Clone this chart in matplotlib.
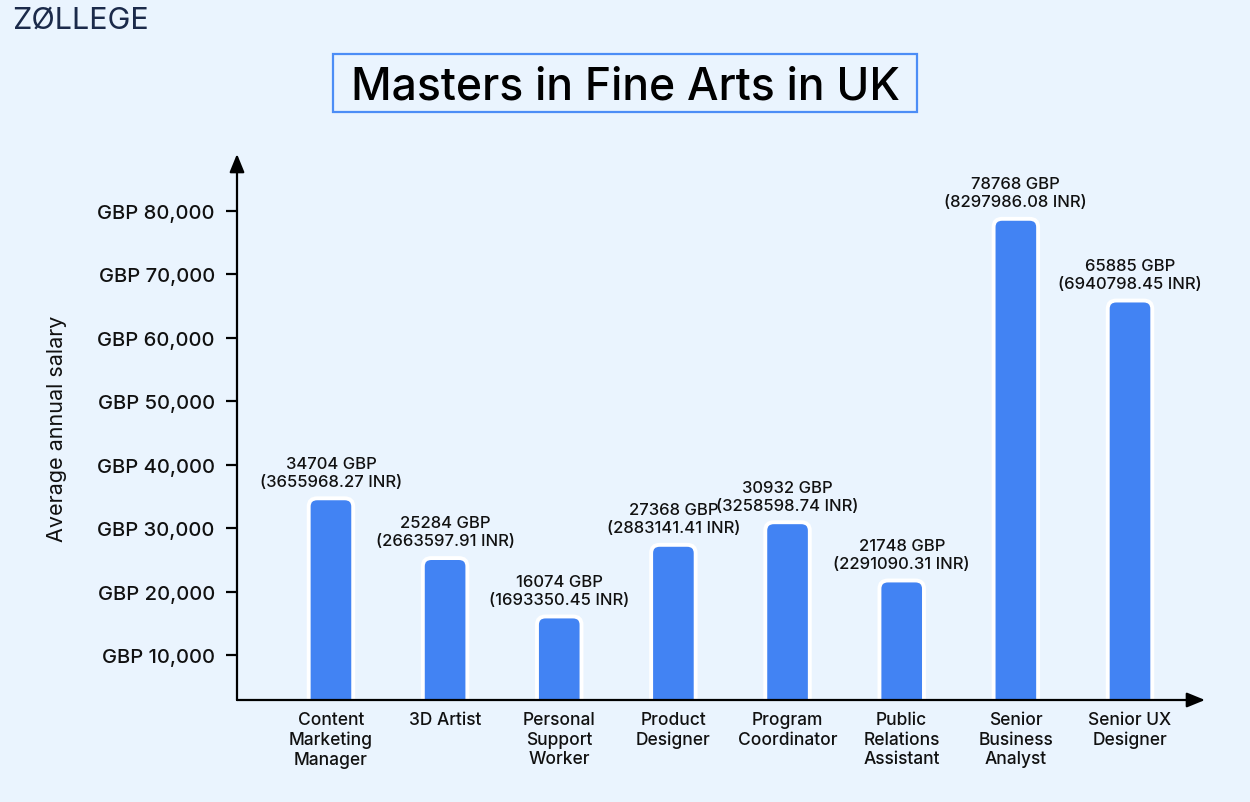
import matplotlib.pyplot as plt
from matplotlib.patches import FancyBboxPatch, Rectangle
import numpy as np

plt.rcParams['font.family'] = ['Inter', 'DejaVu Sans']

jobs = ['Content\nMarketing\nManager', '3D Artist', 'Personal\nSupport\nWorker',
        'Product\nDesigner', 'Program\nCoordinator', 'Public\nRelations\nAssistant',
        'Senior\nBusiness\nAnalyst', 'Senior UX\nDesigner']
gbp = [34704, 25284, 16074, 27368, 30932, 21748, 78768, 65885]
inr = ['3655968.27', '2663597.91', '1693350.45', '2883141.41',
       '3258598.74', '2291090.31', '8297986.08', '6940798.45']
yticks = [10000, 20000, 30000, 40000, 50000, 60000, 70000, 80000]

bg = '#EAF4FE'
bar_color = '#4283F3'
W, H = 1250, 803

fig = plt.figure(figsize=(12.5, 8.03), dpi=100, facecolor=bg)
# axes box: x 237..1205 px, y 155..701 px
ax = fig.add_axes([237 / W, 1 - 701 / H, (1205 - 237) / W, (701 - 155) / H])
ax.set_facecolor(bg)

x = np.arange(len(jobs))
width = 0.39
ax.set_xlim(-0.823, len(jobs) - 1 + 0.657)
# tick 10,000 at 656 px and 80,000 at 212 px -> 63.43 px per 10k
px_per = 63.43 / 10000
ax.set_ylim(10000 - (701 - 656) / px_per, 80000 + (212 - 155) / px_per)

bars = ax.bar(x, gbp, width=width, color=bar_color)
aspect = 1300 / 0.075
for r in bars:
    bx, by = r.get_x(), r.get_y()
    bw, bh = r.get_width(), r.get_height()
    r.remove()
    p = FancyBboxPatch((bx, by), bw, bh,
                       boxstyle='round,pad=0,rounding_size=0.075',
                       mutation_aspect=aspect, facecolor=bar_color,
                       edgecolor='white', linewidth=2.8, zorder=2)
    ax.add_patch(p)

for i, v in enumerate(gbp):
    ax.annotate(f'{v} GBP\n({inr[i]} INR)', (x[i], v), xytext=(0, 7),
                textcoords='offset points', ha='center', va='bottom',
                fontsize=12, color='#111111', linespacing=1.25,
                fontweight='medium')

for s in ax.spines.values():
    s.set_visible(False)

# axis arrows
ax.annotate('', xy=(1.0, 0), xytext=(0, 0), xycoords='axes fraction',
            arrowprops=dict(arrowstyle='-|>,head_length=1.1,head_width=0.45',
                            color='black', lw=1.6, shrinkA=0, shrinkB=0))
ax.annotate('', xy=(0, 1.0), xytext=(0, 0), xycoords='axes fraction',
            arrowprops=dict(arrowstyle='-|>,head_length=1.1,head_width=0.45',
                            color='black', lw=1.6, shrinkA=0, shrinkB=0))

ax.set_yticks(yticks)
ax.set_yticklabels([f'GBP {t:,}' for t in yticks], fontsize=14.5,
                   color='#111111', fontweight='medium')
ax.tick_params(axis='y', length=8, width=1.6, pad=8, color='black')
ax.set_xticks(x)
ax.set_xticklabels(jobs, fontsize=12.5, color='#111111', linespacing=1.2,
                   fontweight='medium')
ax.tick_params(axis='x', length=0, pad=8)

fig.text(57 / W, 1 - 429 / H, 'Average annual salary', rotation=90,
         ha='center', va='center', fontsize=15.5, color='#111111')

# title with its blue frame
fig.patches.append(Rectangle((333 / W, 1 - 113 / H), (917 - 333) / W, 58 / H,
                             transform=fig.transFigure, facecolor='none',
                             edgecolor='#4C8DF6', linewidth=1.6))
fig.text(625 / W, 1 - 87 / H, 'Masters in Fine Arts in UK', ha='center',
         va='center', fontsize=32, color='black', fontweight='medium')

fig.text(12 / W, 1 - 21 / H, 'ZØLLEGE', ha='left', va='center',
         fontsize=22, color='#1B2A4A', fontweight='normal')

plt.savefig('out.png', dpi=100, facecolor=bg)
